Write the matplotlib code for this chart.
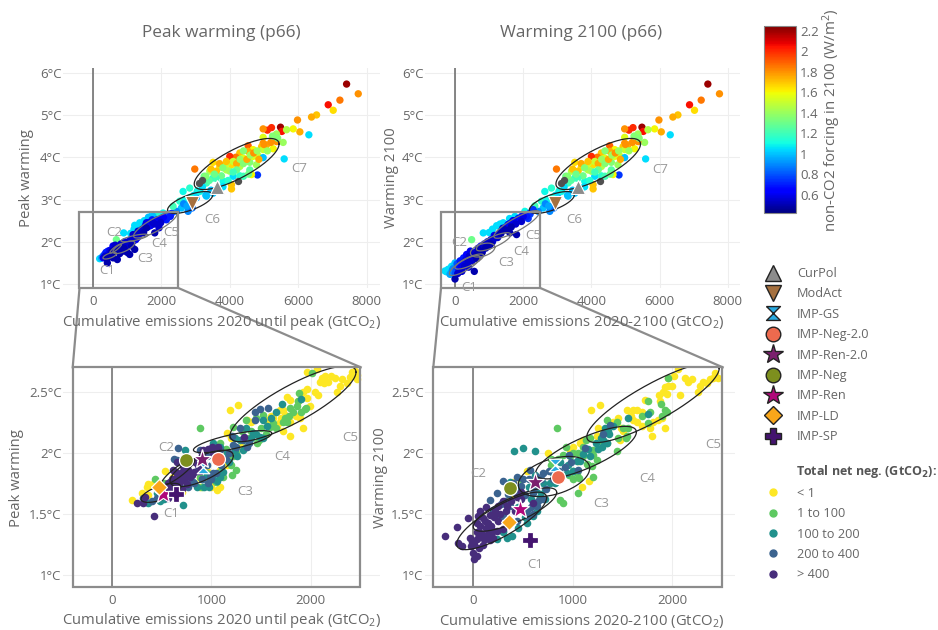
import numpy as np
import matplotlib
matplotlib.use("Agg")
import matplotlib.pyplot as plt
from matplotlib.path import Path
from matplotlib.lines import Line2D
from matplotlib.patches import Rectangle
from matplotlib.colors import Normalize

plt.rcParams['font.family'] = ['Open Sans', 'DejaVu Sans']
plt.rcParams['mathtext.default'] = 'regular'

# upper part of the top panels, same in both
high_x = [7415, 7756, 6878, 7220, 7024, 6537, 6390, 5980, 6049, 6312, 5590, 5483, 5522, 5220, 5100, 4975, 5854, 5660,
          5366, 4975, 4975, 5560, 5366, 4537, 5073, 4930, 5268, 4683, 4537, 4293, 4176, 4000, 4830, 4975, 4585, 4390,
          4049, 3902, 3707, 3512, 3610, 3415, 2976, 4810, 4634, 4049, 4098, 3805, 4293, 4585, 4293, 3317, 3512, 3756,
          4000, 4780, 4975, 4683, 4098, 3707, 3512, 3122, 2829, 2634, 3024, 2537, 3317, 2780, 2585, 2439, 3250, 3900,
          3050, 3200, 3300, 2950, 3400, 3600, 3700, 3800, 3900, 3300, 3450, 3550, 4200, 4300, 4400, 4500, 4600, 4700,
          4800, 4850, 5000, 5100, 5200, 4400, 4200, 4100, 3950, 4400, 4550, 3800, 3600, 3450, 2700, 2850, 2650, 2900,
          2750, 5400, 5250, 4050]
high_y = [5.73, 5.50, 5.24, 5.35, 5.11, 5.00, 4.95, 4.88, 4.60, 4.53, 3.96, 4.71, 4.61, 4.70, 4.64, 4.67, 4.67, 4.65,
          4.55, 4.47, 4.33, 4.35, 4.37, 4.27, 4.29, 4.25, 4.20, 4.18, 4.14, 4.10, 4.00, 4.02, 4.03, 3.99, 3.88, 3.98,
          3.82, 3.70, 3.77, 3.88, 3.67, 3.67, 3.72, 3.58, 3.59, 3.35, 3.55, 3.43, 3.56, 3.70, 3.78, 3.39, 3.51, 3.56,
          3.67, 3.82, 4.18, 4.02, 3.90, 3.27, 3.15, 3.19, 3.27, 3.19, 3.04, 2.96, 3.08, 2.72, 2.80, 2.72, 3.55, 3.85,
          3.20, 3.30, 3.10, 3.10, 3.45, 3.50, 3.85, 3.75, 3.90, 3.55, 3.72, 3.60, 3.85, 3.95, 3.85, 3.95, 4.05, 4.10,
          4.15, 3.95, 4.30, 4.15, 4.35, 4.15, 3.70, 3.65, 3.45, 3.55, 3.60, 3.30, 3.20, 3.22, 3.00, 3.05, 2.90, 2.80,
          2.85, 4.45, 4.50, 3.25]
high_f = [2.2, 1.8, 2.05, 1.85, 1.65, 1.7, 1.75, 1.8, 1.75, 1.05, 1.05, 2.2, 2.05, 2.0, 2.0, 1.8, 1.6, 1.45,
          1.4, 1.55, 1.8, 1.4, 1.8, 1.9, 1.75, 1.7, 1.6, 1.6, 1.75, 1.7, 1.85, 2.0, 1.5, 1.0, 1.35, 1.55,
          1.65, 1.45, 1.65, 1.65, 1.7, 1.45, 1.85, 0.75, 1.6, 1.7, 1.05, 1.1, 1.15, 1.25, 1.45, 1.2, 1.15, 1.3,
          1.4, 1.4, 1.5, 1.55, 1.5, 1.05, 1.0, 1.1, 1.15, 1.1, 0.95, 1.15, 1.0, 0.9, 1.0, 0.9, 1.3, 1.5,
          1.1, 1.05, 1.0, 1.05, 1.25, 1.2, 1.75, 1.35, 1.7, 1.35, 1.7, 1.3, 1.75, 1.4, 1.35, 1.75, 1.4, 1.8,
          1.4, 1.75, 1.8, 1.4, 1.8, 1.35, 1.3, 1.2, 1.15, 1.2, 1.3, 1.05, 1.05, 1.0, 1.1, 1.15, 0.9, 0.85,
          0.95, 1.35, 1.35, 1.7]
grey_x = [3100, 3195, 4244]
grey_y = [3.40, 3.47, 3.43]

# lower part, top left panel
low_peak_x = [195, 250, 293, 340, 380, 420, 439, 470, 500, 540,
              585, 585, 620, 650, 683, 712, 740, 780, 780, 820,
              850, 878, 898, 930, 976, 1000, 1040, 1073, 1100, 1130,
              1171, 1171, 1220, 1220, 1260, 1300, 1317, 1366, 1400, 1450,
              1500, 1561, 1561, 1600, 1650, 1700, 1756, 1756, 1805, 1854,
              1900, 1932, 1951, 2000, 2049, 2100, 2146, 2200, 2293, 2341,
              300, 360, 410, 460, 520, 560, 610, 660, 700, 760,
              800, 840, 900, 950, 1030, 1090, 1150, 1200, 1250, 1350,
              1420, 1480, 1530, 1620, 1680, 1730, 1800, 1880, 1980, 2060,
              2180, 2260, 1100, 1200, 1320, 1500, 1620, 1720]
low_peak_y = [1.60, 1.62, 1.66, 1.70, 1.75, 1.50, 1.78, 1.72, 1.80, 1.70,
              1.90, 1.62, 1.85, 1.92, 2.05, 1.58, 1.88, 1.90, 1.72, 1.95,
              1.80, 1.78, 2.21, 2.00, 1.97, 1.75, 2.00, 1.70, 2.05, 1.90,
              2.17, 2.01, 2.39, 1.82, 2.15, 2.10, 2.25, 2.45, 2.20, 2.30,
              2.30, 2.45, 2.33, 2.35, 2.42, 2.40, 2.60, 2.45, 2.21, 2.64,
              2.50, 2.33, 2.49, 2.55, 2.68, 2.55, 2.52, 2.60, 2.67, 2.84,
              1.62, 1.66, 1.60, 1.65, 1.74, 1.78, 1.76, 1.82, 1.85, 1.82,
              1.80, 1.88, 1.85, 1.90, 1.92, 1.98, 2.08, 2.12, 2.05, 2.20,
              2.28, 2.22, 2.38, 2.45, 2.38, 2.52, 2.42, 2.52, 2.45, 2.58,
              2.65, 2.60, 2.20, 2.30, 2.38, 2.50, 2.58, 2.62]
low_peak_f = [1.05, 0.95, 0.85, 0.75, 0.7, 0.5, 0.7, 0.6, 0.6, 0.55,
              0.6, 0.5, 0.6, 0.55, 1.3, 0.5, 0.55, 0.55, 0.5, 0.55,
              0.5, 0.5, 1.05, 0.6, 0.55, 0.5, 0.55, 0.5, 0.6, 0.5,
              0.55, 0.6, 1.05, 0.5, 0.6, 0.6, 0.55, 1.05, 0.6, 0.55,
              0.7, 0.6, 0.5, 0.6, 0.6, 0.65, 1.0, 0.55, 0.5, 1.15,
              0.65, 0.55, 0.6, 0.65, 1.1, 0.7, 0.7, 0.8, 0.75, 1.2,
              0.6, 0.55, 0.5, 0.5, 0.55, 0.5, 0.5, 0.5, 0.55, 0.5,
              0.55, 0.55, 0.5, 0.55, 0.55, 0.55, 0.55, 0.55, 0.6, 0.55,
              0.55, 0.5, 0.6, 0.6, 0.6, 0.7, 0.55, 0.65, 0.55, 0.65,
              0.8, 0.7, 1.05, 1.05, 1.05, 1.05, 1.0, 1.05]

# lower part, top right panel
low_2100_x = [-293, -250, -146, -80, -30, 0, 7, 60, 100, 150,
              200, 250, 300, 340, 400, 450, 488, 500, 566, 600,
              640, 680, 720, 760, 800, 829, 860, 900, 950, 1000,
              1050, 1100, 1150, 1220, 1250, 1300, 1350, 1415, 1450, 1500,
              1550, 1610, 1650, 1700, 1756, 1805, 1850, 1900, 1950, 2049,
              2100, 2146, 2200, 2293, 2341,
              -120, -60, 30, 80, 120, 180, 230, 280, 320, 380,
              420, 470, 530, 560, 620, 660, 700, 740, 790, 850,
              920, 1000, 1050, 1120, 1180, 1270, 1350, 1400, 1480, 1580,
              1650, 1720, 1780, 1880, 1950, 2000, 2200, 1000, 1100, 1320,
              1600, -200, -100, 0]
low_2100_y = [1.31, 1.29, 1.23, 1.32, 1.40, 1.12, 1.25, 1.48, 1.35, 1.55,
              1.30, 1.62, 1.45, 1.70, 1.40, 1.78, 2.05, 1.55, 1.30, 1.75,
              1.60, 1.85, 1.70, 1.90, 1.75, 2.21, 1.95, 1.85, 2.00, 1.90,
              2.05, 2.00, 2.15, 2.38, 2.10, 2.20, 2.25, 2.45, 2.30, 2.35,
              2.40, 2.21, 2.45, 2.50, 2.60, 2.17, 2.55, 2.50, 2.60, 2.72,
              2.60, 2.55, 2.65, 2.76, 2.85,
              1.26, 1.36, 1.32, 1.25, 1.42, 1.40, 1.50, 1.42, 1.58, 1.55,
              1.66, 1.62, 1.72, 1.64, 1.68, 1.78, 1.80, 1.85, 1.83, 1.88,
              1.95, 1.98, 1.95, 2.05, 2.12, 2.18, 2.20, 2.32, 2.28, 2.42,
              2.35, 2.50, 2.42, 2.55, 2.48, 2.60, 2.68, 2.22, 2.30, 2.42,
              2.55, 1.35, 1.42, 1.50]
low_2100_f = [1.05, 1.05, 0.95, 0.9, 1.0, 0.5, 0.8, 0.8, 0.7, 0.7,
              0.55, 0.7, 0.6, 0.65, 0.55, 0.6, 1.3, 0.55, 0.5, 0.6,
              0.5, 0.6, 0.55, 0.6, 0.5, 1.05, 0.6, 0.5, 0.6, 0.5,
              0.6, 0.55, 0.6, 1.05, 0.55, 0.6, 0.55, 1.05, 0.6, 0.6,
              0.7, 0.5, 0.6, 0.7, 1.05, 0.5, 0.7, 0.65, 0.7, 1.1,
              0.7, 0.75, 0.8, 0.75, 1.2,
              1.0, 0.9, 0.8, 0.55, 0.7, 0.6, 0.6, 0.55, 0.6, 0.55,
              0.55, 0.55, 0.55, 0.55, 0.5, 0.55, 0.5, 0.55, 0.55, 0.55,
              0.55, 0.55, 0.5, 0.55, 0.55, 0.55, 0.5, 0.55, 0.5, 0.6,
              0.5, 0.6, 0.55, 0.65, 0.55, 0.6, 0.75, 1.05, 1.05, 1.05,
              1.05, 1.05, 1.05, 1.0]

# bottom left panel, by total net negative class
peak_yellow_x = [195, 363, 296, 531, 1052, 1086, 1018, 1187, 1270, 1792, 1926, 1892, 1741, 1691, 1758, 1792, 1926, 1960,
                 2044, 2077, 1960, 2060, 2111, 2144, 2178, 2245, 2262, 2296, 2363, 2397, 2464, 2447, 2094, 1556, 1622,
                 1355, 1153, 1220, 1691, 1724, 1792, 1875, 1187, 1153, 1086, 951, 884, 750, 615, 346,
                 950, 1000, 1100, 1150, 1200, 1300, 1600, 1660, 1720, 1700, 1850, 1990, 1960, 880, 700, 420, 360, 1400,
                 2200, 2130, 2320, 2420, 2470]
peak_yellow_y = [1.61, 1.74, 1.67, 1.85, 1.69, 1.72, 1.76, 2.35, 2.39, 2.14, 2.20, 2.28, 2.31, 2.35, 2.46, 2.43, 2.50, 2.52,
                 2.50, 2.47, 2.66, 2.69, 2.61, 2.63, 2.58, 2.61, 2.50, 2.55, 2.57, 2.62, 2.60, 2.67, 2.58, 2.27, 2.28,
                 2.27, 2.16, 2.13, 2.25, 2.35, 2.25, 2.42, 1.97, 1.90, 1.86, 1.78, 1.79, 1.75, 1.80, 1.72,
                 1.85, 1.72, 1.95, 1.98, 2.12, 2.05, 2.30, 2.22, 2.18, 2.28, 2.30, 2.38, 2.45, 1.72, 1.68, 1.75, 1.65, 2.25,
                 2.63, 2.57, 2.60, 2.66, 2.64]
peak_green_x = [884, 1244, 1203, 430, 1624, 1880, 2017, 1950, 1859, 1792, 1943, 1741, 1758, 1523, 1590, 1348, 1304, 1220,
                1086, 1455, 1018, 1220, 1119, 1050, 950, 880, 1150, 1380,
                1100, 1200, 1250, 1350, 1480, 1550, 1780, 1820, 1870, 1900, 1720, 1650, 1400, 1000, 900, 480, 520, 1450, 1500]
peak_green_y = [2.20, 1.86, 1.82, 1.78, 2.24, 2.49, 2.65, 2.37, 2.38, 2.37, 2.36, 2.28, 2.25, 2.31, 2.21, 2.27, 2.18, 2.21,
                2.08, 2.08, 2.02, 1.97, 1.80, 1.76, 1.83, 1.80, 2.03, 2.12,
                1.85, 1.90, 2.00, 2.05, 2.10, 2.15, 2.30, 2.33, 2.42, 2.33, 2.25, 2.20, 2.18, 1.82, 1.72, 1.68, 1.75, 2.28, 2.20]
peak_teal_x = [716, 1714, 1907, 1523, 1422, 1254, 1018, 1086, 1287, 733, 1018, 1086, 951, 817, 682, 447, 363, 520, 1490, 1160, 900,
               850, 920, 980, 1060, 1120, 1180, 1240, 1320, 1400, 1450, 1520, 1240, 1650, 1600, 1560, 900, 560, 480, 1350]
peak_teal_y = [1.57, 2.40, 2.44, 2.27, 2.16, 1.97, 2.08, 2.05, 2.10, 2.02, 1.78, 1.80, 1.82, 1.76, 1.72, 1.67, 1.59, 1.62, 2.13, 2.00, 1.90,
               1.72, 1.72, 1.72, 1.77, 1.84, 1.92, 2.02, 2.02, 2.12, 2.15, 2.12, 2.12, 2.33, 2.28, 2.22, 1.78, 1.70, 1.60, 2.20]
peak_blue_x = [665, 649, 1573, 1439, 1287, 1203, 1355, 884, 1018, 951, 1086, 850, 720, 585, 480, 310, 985, 1018, 1220, 1440, 1490, 400, 780,
               760, 820, 900, 960, 1000, 1050, 1100, 1150, 1180, 1250, 1320, 1380, 950, 620, 540, 450, 680]
peak_blue_y = [2.04, 1.94, 2.37, 2.27, 2.20, 2.14, 2.05, 2.02, 2.05, 1.97, 2.02, 1.85, 1.82, 1.76, 1.68, 1.63, 1.80, 1.83, 2.06, 2.33, 2.36, 1.60, 1.77,
               1.72, 1.75, 1.78, 1.75, 1.78, 1.83, 1.90, 1.95, 2.00, 2.05, 2.10, 2.08, 1.90, 1.95, 1.65, 1.63, 1.68]
peak_purple_x = [424, 252, 329, 313, 1328, 1069, 1002, 918, 750, 650, 682, 582, 615, 716, 800, 884, 548, 615, 750, 560, 830, 650, 700,
                 540, 600, 640, 680, 720, 760, 640, 600, 560, 700, 780, 660, 820, 860, 740, 900, 960, 1020]
peak_purple_y = [1.48, 1.59, 1.64, 1.59, 2.13, 2.05, 2.05, 2.02, 1.83, 1.80, 1.76, 1.76, 1.86, 1.89, 1.82, 1.85, 1.72, 1.70, 1.74, 1.63, 1.92, 1.92, 1.70,
                 1.72, 1.78, 1.84, 1.80, 1.78, 1.86, 1.76, 1.72, 1.75, 1.84, 1.80, 1.74, 1.84, 1.90, 1.92, 1.98, 2.03, 2.00]

# bottom right panel
w2100_yellow_x = [1183, 1273, 1095, 536, 369, 1792, 1926, 1893, 1725, 1809, 1910, 1943, 2077, 1960, 2060, 2127, 2161, 2261,
                  2278, 2345, 2429, 2462, 2412, 1541, 1608, 1691, 1457, 1508, 1474, 1608, 1876, 1926, 1240, 1072, 971, 838, 402, 1160,
                  750, 1000, 1100, 1250, 1480, 1400, 1650, 1700, 1650, 1580, 1780, 1860, 2000, 2020, 2200, 2310, 2380, 1870, 1960, 1050, 780]
w2100_yellow_y = [2.35, 2.39, 1.72, 1.85, 1.63, 2.14, 2.20, 2.28, 2.43, 2.25, 2.50, 2.48, 2.47, 2.61, 2.69, 2.61, 2.58, 2.50,
                  2.55, 2.57, 2.65, 2.61, 2.61, 2.35, 2.35, 2.33, 2.28, 2.18, 2.10, 2.27, 2.42, 2.54, 2.14, 2.08, 2.02, 1.94, 1.76, 1.77,
                  2.00, 2.05, 2.10, 2.20, 2.20, 2.25, 2.25, 2.22, 2.35, 2.30, 2.20, 2.27, 2.55, 2.63, 2.60, 2.58, 2.60, 2.47, 2.55, 1.93, 1.85]
w2100_green_x = [838, 1055, 871, 898, 1206, 1189, 1065, 1440, 1541, 1508, 1340, 1759, 1960, 1759, 1926, 1943, 1206, 1106,
                 971, 1240, 1307, 1340, 1172, 1039, 1139, 900, 1000, 780,
                 780, 850, 930, 1050, 1100, 1150, 1200, 1000, 960, 1130, 1450, 1550, 1530, 1300, 1780, 1890, 1900, 1700, 1440, 1000, 480]
w2100_green_y = [2.20, 1.67, 1.61, 1.59, 1.80, 1.89, 1.79, 2.01, 2.14, 2.20, 2.27, 2.42, 2.61, 2.24, 2.35, 2.33, 2.02, 2.05,
                 1.97, 1.94, 2.09, 2.08, 2.12, 1.83, 1.91, 1.98, 1.85, 1.95,
                 1.90, 1.95, 2.05, 2.00, 1.97, 1.90, 1.98, 1.78, 1.82, 2.10, 2.12, 2.20, 2.12, 2.15, 2.33, 2.40, 2.30, 2.30, 2.25, 2.00, 1.78]
w2100_teal_x = [412, 496, 616, 1759, 1558, 1340, 1307, 1357, 1172, 1106, 1039, 938, 770, 637, 603, 536, 385, 235, 302, 469, 369, 670, 870, 820, 1250,
                250, 300, 340, 450, 520, 580, 640, 680, 720, 450, 560, 620, 700, 800, 880, 950, 1000, 1070, 1150, 1230, 1280, 1320, 1400, 1290, 1360]
w2100_teal_y = [2.01, 2.04, 2.01, 2.32, 2.28, 2.08, 2.10, 2.18, 1.97, 1.99, 1.93, 1.83, 1.75, 1.70, 1.48, 1.42, 1.32, 1.29, 1.36, 1.72, 1.76, 1.64, 1.92, 1.75, 2.03,
                1.47, 1.35, 1.30, 1.38, 1.47, 1.62, 1.52, 1.68, 1.62, 1.55, 1.72, 1.82, 1.75, 1.83, 1.82, 1.90, 1.85, 1.93, 2.03, 2.08, 2.12, 2.20, 2.22, 2.05, 2.15]
w2100_blue_x = [295, 961, 1055, 1374, 570, 436, 637, 704, 603, 637, 536, 235, 168, 369, 1300, 520, 730, 300, 440, 200, 1120,
                350, 420, 480, 560, 620, 680, 700, 650, 580, 550, 500, 400, 320, 280, 860, 920, 980, 760, 800, 600, 330]
w2100_blue_y = [1.77, 1.98, 1.86, 2.23, 1.86, 1.80, 1.80, 1.83, 1.67, 1.56, 1.53, 1.67, 1.61, 1.56, 2.15, 1.65, 1.70, 1.48, 1.44, 1.53, 2.04,
                1.66, 1.68, 1.73, 1.78, 1.72, 1.78, 1.62, 1.60, 1.55, 1.48, 1.78, 1.75, 1.60, 1.58, 1.85, 1.88, 1.92, 1.85, 1.78, 1.50, 1.43]
w2100_purple_x = [-285, -168, -50, -157, -111, -27, 7, 0, 34, -34, 67, 100, 67, 168, 117, 201, 251, 335, 436, 603, 67, 151, 34, 235, 10, 90, 210, 300, 130, 480,
                  40, 100, 150, 50, 120, 180, 250, 270, 330, 380, 170, 100, -10, 60, 220, 130, 420, 480, 40, 300, 200]
w2100_purple_y = [1.32, 1.39, 1.46, 1.26, 1.23, 1.23, 1.13, 1.18, 1.29, 1.30, 1.40, 1.46, 1.52, 1.49, 1.29, 1.36, 1.56, 1.56, 1.64, 1.59, 1.34, 1.42, 1.42, 1.36, 1.25, 1.33, 1.47, 1.37, 1.38, 1.62,
                  1.35, 1.30, 1.33, 1.48, 1.44, 1.40, 1.44, 1.50, 1.52, 1.60, 1.28, 1.24, 1.27, 1.22, 1.52, 1.55, 1.52, 1.68, 1.15, 1.60, 1.30]

# ellipses: centre, half extent to the left/right end, half height at the centre
peak_ell = {'C1': (490, 1.67, 200, 0.05, 0.06), 'C2': (662, 1.84, 168, 0.095, 0.05), 'C3': (901, 1.87, 319, 0.103, 0.108),
            'C4': (1213, 2.09, 395, 0.068, 0.06), 'C5': (1822, 2.40, 635, 0.26, 0.17)}
w2100_ell = {'C1': (285, 1.44, 452, 0.19, 0.14), 'C2': (419, 1.533, 419, 0.14, 0.11), 'C3': (811, 1.804, 359, 0.068, 0.15),
             'C4': (1133, 2.00, 506, 0.168, 0.135), 'C5': (1806, 2.41, 665, 0.28, 0.17)}
ell_c6 = (2840, 2.93, 660, 0.175, 0.19)
ell_c7 = (4200, 3.84, 1240, 0.47, 0.38)

cat_names = ['C1', 'C2', 'C3', 'C4', 'C5', 'C6', 'C7']
cat_tl_x = [410, 634, 1532, 1922, 2293, 3493, 6029]
cat_tl_y = [1.33, 2.21, 1.60, 1.95, 2.21, 2.52, 3.74]
cat_tr_x = [420, 117, 1493, 1932, 2293, 3493, 6029]
cat_tr_y = [0.92, 1.99, 1.51, 1.78, 2.15, 2.52, 3.72]
cat_bl_x = [598, 541, 1338, 1714, 2403]
cat_bl_y = [1.50, 2.04, 1.68, 1.97, 2.12]
cat_br_x = [626, 50, 1290, 1749, 2412]
cat_br_y = [1.08, 1.83, 1.58, 1.79, 2.07]

# scenario markers
path_names = ['CurPol', 'ModAct', 'IMP-GS', 'IMP-Neg-2.0', 'IMP-Ren-2.0', 'IMP-Neg', 'IMP-Ren', 'IMP-LD', 'IMP-SP']
path_cols = ['#8c8c8c', '#a5703f', '#29abe2', '#ed6a4e', '#7b1f6e', '#7d8f1e', '#b0087a', '#f9a61a', '#44146f']
hourglass = Path([(-1, 1), (1, 1), (-1, -1), (1, -1), (-1, 1)])
path_marks = ['^', 'v', hourglass, 'o', '*', 'o', '*', 'D', 'P']
legend_sizes = [11.5, 11.5, 10, 10.5, 15, 10.5, 15, 9, 12]
plot_sizes = [10.5, 10.5, 9, 10, 14, 10, 14, 8.5, 12]
top_path_x = {'TL': [3629, 2907], 'TR': [3610, 2927]}
top_path_y = {'TL': [3.30, 2.92], 'TR': [3.29, 2.92]}
bl_path_x = [918, 1062, 908, 740, 508, 471, 639]
bl_path_y = [1.88, 1.95, 1.95, 1.94, 1.66, 1.72, 1.66]
br_path_x = [821, 854, 620, 369, 469, 355, 570]
br_path_y = [1.90, 1.80, 1.76, 1.71, 1.54, 1.43, 1.28]

class_names = ['< 1', '1 to 100', '100 to 200', '200 to 400', '> 400']
class_cols = ['#fde725', '#5ec962', '#21918c', '#3b638f', '#472d7b']

W, H = 938, 630
fig = plt.figure(figsize=(W / 100, H / 100), dpi=100)
txt = '#666666'


def px_axes(l, t, r, b):
    return fig.add_axes([l / W, 1 - b / H, (r - l) / W, (b - t) / H])


def setup(ax, xlim, ylim, xticks, yticks, ylabels):
    ax.set_xlim(xlim)
    ax.set_ylim(ylim)
    ax.set_xticks(xticks)
    ax.set_yticks(yticks)
    ax.set_yticklabels(ylabels)
    ax.tick_params(length=0, labelsize=9.5, labelcolor=txt, pad=1)
    ax.tick_params(axis='x', pad=5)
    ax.grid(color='#eeeeee', lw=0.8)
    ax.set_axisbelow(True)
    for s in ax.spines.values():
        s.set_visible(False)


def draw_ellipse(ax, e, col='#222222', lw=0.9):
    t = np.linspace(0, 2 * np.pi, 200)
    ax.plot(e[0] + e[2] * np.cos(t), e[1] + e[3] * np.cos(t) + e[4] * np.sin(t), color=col, lw=lw, zorder=6)


def draw_classes(ax, xs, ys):
    for k in range(5):
        ax.scatter(xs[k], ys[k], s=30, color=class_cols[k], lw=0, zorder=3 + k * 0.1)


cmap = plt.get_cmap('jet')
norm = Normalize(0.424, 2.246)

top_ticks_y = [1, 2, 3, 4, 5, 6]
top_labels_y = ['1°C', '2°C', '3°C', '4°C', '5°C', '6°C']
low_ticks_y = [1, 1.5, 2, 2.5]
low_labels_y = ['1°C', '1.5°C', '2°C', '2.5°C']

# top panels
tl = px_axes(63, 68, 380, 288.3)
tr = px_axes(425, 68, 740, 288.3)
setup(tl, (-877, 8392), (0.9, 6.11), [0, 2000, 4000, 6000, 8000], top_ticks_y, top_labels_y)
setup(tr, (-880, 8358), (0.9, 6.11), [0, 2000, 4000, 6000, 8000], top_ticks_y, top_labels_y)

for ax, lx, ly, lf, ell, cx, cy, key in [(tl, low_peak_x, low_peak_y, low_peak_f, peak_ell, cat_tl_x, cat_tl_y, 'TL'),
                                         (tr, low_2100_x, low_2100_y, low_2100_f, w2100_ell, cat_tr_x, cat_tr_y, 'TR')]:
    ax.axvline(0, color='#666666', lw=1.1, zorder=2)
    ax.scatter(high_x, high_y, c=high_f, cmap=cmap, norm=norm, s=28, lw=0, zorder=3)
    ax.scatter(grey_x, grey_y, color='#505050', s=28, lw=0, zorder=3)
    order = np.argsort(lf)[::-1]
    ax.scatter(np.array(lx)[order], np.array(ly)[order], c=np.array(lf)[order], cmap=cmap, norm=norm, s=28, lw=0, zorder=3)
    for name in ell:
        draw_ellipse(ax, ell[name], col='#777777')
    draw_ellipse(ax, ell_c6)
    draw_ellipse(ax, ell_c7)
    for i in range(2):
        ax.plot(top_path_x[key][i], top_path_y[key][i], marker=path_marks[i], color=path_cols[i], ms=plot_sizes[i],
                mec='white', mew=0.8, ls='none', zorder=8)
    for n, x, y in zip(cat_names, cx, cy):
        ax.text(x, y, n, color='#999999', fontsize=9.5, ha='center', va='center', zorder=9, clip_on=False)
    ax.add_patch(Rectangle((-400, 0.9), 2900, 1.8, fill=False, ec='#8c8c8c', lw=1.6, zorder=7, clip_on=False))

# bottom panels
bl = px_axes(63, 367.3, 380, 586.7)
br = px_axes(425, 367.3, 735, 586.7)
setup(bl, (-497, 2699), (0.9, 2.7), [0, 1000, 2000], low_ticks_y, low_labels_y)
setup(br, (-485, 2630), (0.9, 2.7), [0, 1000, 2000], low_ticks_y, low_labels_y)

draw_classes(bl, [peak_yellow_x, peak_green_x, peak_teal_x, peak_blue_x, peak_purple_x],
             [peak_yellow_y, peak_green_y, peak_teal_y, peak_blue_y, peak_purple_y])
draw_classes(br, [w2100_yellow_x, w2100_green_x, w2100_teal_x, w2100_blue_x, w2100_purple_x],
             [w2100_yellow_y, w2100_green_y, w2100_teal_y, w2100_blue_y, w2100_purple_y])

for ax, ell, cx, cy, px, py in [(bl, peak_ell, cat_bl_x, cat_bl_y, bl_path_x, bl_path_y),
                                (br, w2100_ell, cat_br_x, cat_br_y, br_path_x, br_path_y)]:
    ax.axvline(0, color='#808080', lw=1.3, zorder=2)
    for name in ell:
        draw_ellipse(ax, ell[name])
    for i in range(7):
        ax.plot(px[i], py[i], marker=path_marks[i + 2], color=path_cols[i + 2], ms=plot_sizes[i + 2],
                mec='white', mew=0.9, ls='none', zorder=8)
    for n, x, y in zip(cat_names, cx, cy):
        ax.text(x, y, n, color='#999999', fontsize=9.5, ha='center', va='center', zorder=9, clip_on=False)
    ax.add_patch(Rectangle((-400, 0.9), 2900, 1.8, fill=False, ec='#8c8c8c', lw=1.6, zorder=7, clip_on=False))

# zoom connectors between the boxes
for a, b in [((79.5, 288.3), (72.7, 367.3)), ((179, 288.3), (360.7, 367.3)),
             ((441, 288.3), (433.3, 367.3)), ((541, 288.3), (722.7, 367.3))]:
    fig.add_artist(Line2D([a[0] / W, b[0] / W], [1 - a[1] / H, 1 - b[1] / H], color='#8c8c8c', lw=1.6))

# titles and axis labels
fig.text(221 / W, 1 - 33 / H, 'Peak warming (p66)', fontsize=12.4, color=txt, ha='center', va='center')
fig.text(581 / W, 1 - 33 / H, 'Warming 2100 (p66)', fontsize=12.4, color=txt, ha='center', va='center')
fig.text(221 / W, 1 - 322 / H, r'Cumulative emissions 2020 until peak (GtCO$_2$)', fontsize=10.7, color=txt, ha='center', va='center')
fig.text(582 / W, 1 - 322 / H, r'Cumulative emissions 2020-2100 (GtCO$_2$)', fontsize=10.7, color=txt, ha='center', va='center')
fig.text(221 / W, 1 - 621 / H, r'Cumulative emissions 2020 until peak (GtCO$_2$)', fontsize=10.7, color=txt, ha='center', va='center')
fig.text(582 / W, 1 - 621 / H, r'Cumulative emissions 2020-2100 (GtCO$_2$)', fontsize=10.7, color=txt, ha='center', va='center')
fig.text(27 / W, 1 - 178 / H, 'Peak warming', fontsize=10.7, color=txt, rotation=90, ha='center', va='center')
fig.text(391 / W, 1 - 178 / H, 'Warming 2100', fontsize=10.7, color=txt, rotation=90, ha='center', va='center')
fig.text(17 / W, 1 - 478 / H, 'Peak warming', fontsize=10.7, color=txt, rotation=90, ha='center', va='center')
fig.text(380 / W, 1 - 478 / H, 'Warming 2100', fontsize=10.7, color=txt, rotation=90, ha='center', va='center')

# colour bar
cax = px_axes(763.7, 26, 796, 213)
sm = plt.cm.ScalarMappable(norm=norm, cmap=cmap)
cb = fig.colorbar(sm, cax=cax, ticks=[0.6, 0.8, 1, 1.2, 1.4, 1.6, 1.8, 2, 2.2])
cb.ax.set_yticklabels(['0.6', '0.8', '1', '1.2', '1.4', '1.6', '1.8', '2', '2.2'])
cb.ax.tick_params(length=0, labelsize=9.5, labelcolor=txt, pad=3)
cb.outline.set_edgecolor('#888888')
cb.outline.set_linewidth(0.8)
fig.text(832 / W, 1 - 120 / H, r'non-CO2 forcing in 2100 (W/m$^2$)', fontsize=10.8, color=txt, rotation=90, ha='center', va='center')

# legends
handles = []
for i in range(9):
    handles.append(Line2D([], [], ls='none', marker=path_marks[i], color=path_cols[i], mec='#222222', mew=1.0, ms=legend_sizes[i]))
fig.legend(handles, path_names, loc='upper left', bbox_to_anchor=(762 / W, 1 - 267 / H), frameon=False, fontsize=9.2,
           labelcolor=txt, borderpad=0, borderaxespad=0, labelspacing=0.58, handletextpad=1.0, handlelength=1.75)

handles = []
for i in range(5):
    handles.append(Line2D([], [], ls='none', marker='o', color=class_cols[i], ms=5))
fig.legend(handles, class_names, loc='upper left', bbox_to_anchor=(762 / W, 1 - 486.7 / H), frameon=False, fontsize=9.2,
           labelcolor=txt, borderpad=0, borderaxespad=0, labelspacing=0.58, handletextpad=1.0, handlelength=1.75)
fig.text(796 / W, 1 - 471.7 / H, r'Total net neg. (GtCO$_\mathbf{2}$):', fontsize=9.0, fontweight='bold', color='#555555', ha='left', va='center')

fig.savefig('out.png', dpi=100)
